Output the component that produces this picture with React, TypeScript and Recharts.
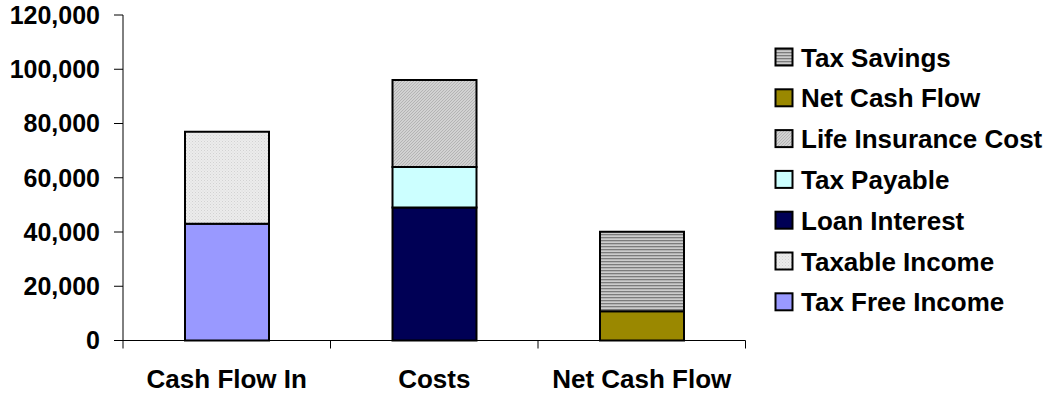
import React from "react";
import { BarChart, Bar, XAxis, YAxis, Legend } from "recharts";

// Categories along the horizontal axis
const categories = ["Cash Flow In", "Costs", "Net Cash Flow"];

// Series values per category (null = not part of that column)
const taxFreeIncome = [43000, null, null];
const taxableIncome = [34000, null, null];
const loanInterest = [null, 49000, null];
const taxPayable = [null, 15000, null];
const lifeInsuranceCost = [null, 32000, null];
const netCashFlow = [null, null, 10800];
const taxSavings = [null, null, 29300];

// Value axis ticks
const yTicks = [0, 20000, 40000, 60000, 80000, 100000, 120000];

const FONT = "'Liberation Sans', Arial, sans-serif";

// Series in stacking order (bottom to top)
const series = [
  { key: "taxFreeIncome", name: "Tax Free Income", values: taxFreeIncome, fill: "#9999FF" },
  { key: "taxableIncome", name: "Taxable Income", values: taxableIncome, fill: "url(#dotsLight)" },
  { key: "loanInterest", name: "Loan Interest", values: loanInterest, fill: "#000055" },
  { key: "taxPayable", name: "Tax Payable", values: taxPayable, fill: "#CCFFFF" },
  { key: "lifeInsuranceCost", name: "Life Insurance Cost", values: lifeInsuranceCost, fill: "url(#diagGray)" },
  { key: "netCashFlow", name: "Net Cash Flow", values: netCashFlow, fill: "#9A8800" },
  { key: "taxSavings", name: "Tax Savings", values: taxSavings, fill: "url(#hStripes)" },
];

// Each category sits in the middle of a unit-wide slot on a numeric axis,
// so the axis can carry tick marks on the slot boundaries.
const data = categories.map((name, i) => {
  const row: Record<string, any> = { name, pos: i + 0.5 };
  series.forEach((s) => {
    row[s.key] = s.values[i];
  });
  return row;
});

const xTicks: number[] = [];
for (let i = 0; i <= categories.length; i++) {
  xTicks.push(i);
  if (i < categories.length) xTicks.push(i + 0.5);
}

const fmt = (v: number) => v.toLocaleString("en-US");

function CategoryTick(props: any) {
  const { x, y, payload } = props;
  const v = payload.value as number;
  if (Number.isInteger(v)) {
    return <line x1={x} x2={x} y1={y} y2={y + 8} stroke="#000" strokeWidth={1} />;
  }
  return (
    <text
      x={x}
      y={y + 47.5}
      textAnchor="middle"
      fill="#000"
      style={{ fontFamily: FONT, fontSize: 26, fontWeight: "bold" }}
    >
      {categories[Math.floor(v)]}
    </text>
  );
}

function LegendBox() {
  const items = [...series].reverse();
  const step = 40.8;
  return (
    <svg width={279} height={290} style={{ display: "block", overflow: "visible" }}>
      {items.map((s, i) => (
        <g key={s.key}>
          <rect
            x={5.5}
            y={8.5 + i * step}
            width={17}
            height={17}
            fill={s.fill}
            stroke="#000"
            strokeWidth={2}
          />
          <text
            x={31}
            y={26.5 + i * step}
            fill="#000"
            style={{ fontFamily: FONT, fontSize: 26, fontWeight: "bold" }}
          >
            {s.name}
          </text>
        </g>
      ))}
    </svg>
  );
}

export default function App() {
  return (
    <div style={{ position: "absolute", left: 0, top: 0 }}>
      <BarChart
        width={1049}
        height={396}
        data={data}
        margin={{ top: 15, right: 303.5, bottom: 0, left: 0 }}
        style={{ fontFamily: FONT }}
      >
        <defs>
          <pattern id="dotsLight" width="3" height="3" patternUnits="userSpaceOnUse">
            <rect width="3" height="3" fill="#ececec" />
            <rect x="0" y="0" width="1" height="1" fill="#d2d2d2" />
            <rect x="1.5" y="1.5" width="1" height="1" fill="#dadada" />
          </pattern>
          <pattern id="diagGray" width="3" height="3" patternUnits="userSpaceOnUse">
            <rect width="3" height="3" fill="#d2d2d2" />
            <path d="M0,3 L3,0" stroke="#b4b4b4" strokeWidth="1" />
          </pattern>
          <pattern id="hStripes" width="3" height="3" patternUnits="userSpaceOnUse">
            <rect width="3" height="3" fill="#cccccc" />
            <rect y="0" width="3" height="1.3" fill="#7c7c7c" />
          </pattern>
        </defs>
        <XAxis
          dataKey="pos"
          type="number"
          domain={[0, categories.length]}
          ticks={xTicks}
          interval={0}
          tickLine={false}
          tickSize={0}
          tickMargin={0}
          height={55.5}
          axisLine={{ stroke: "#000", strokeWidth: 1 }}
          tick={<CategoryTick />}
        />
        <YAxis
          width={123}
          domain={[0, 120000]}
          ticks={yTicks}
          interval={0}
          tickFormatter={fmt}
          tickSize={9}
          tickMargin={14}
          axisLine={{ stroke: "#000", strokeWidth: 1 }}
          tickLine={{ stroke: "#000", strokeWidth: 1 }}
          tick={{ fill: "#000", fontSize: 25, fontWeight: "bold", fontFamily: FONT }}
        />
        <Legend
          layout="vertical"
          align="center"
          verticalAlign="middle"
          wrapperStyle={{ left: 770, top: 40, width: 279, height: 290 }}
          content={() => <LegendBox />}
        />
        {series.map((s) => (
          <Bar
            key={s.key}
            dataKey={s.key}
            name={s.name}
            stackId="cash"
            fill={s.fill}
            stroke="#000"
            strokeWidth={2}
            barSize={84}
            isAnimationActive={false}
          />
        ))}
      </BarChart>
    </div>
  );
}
